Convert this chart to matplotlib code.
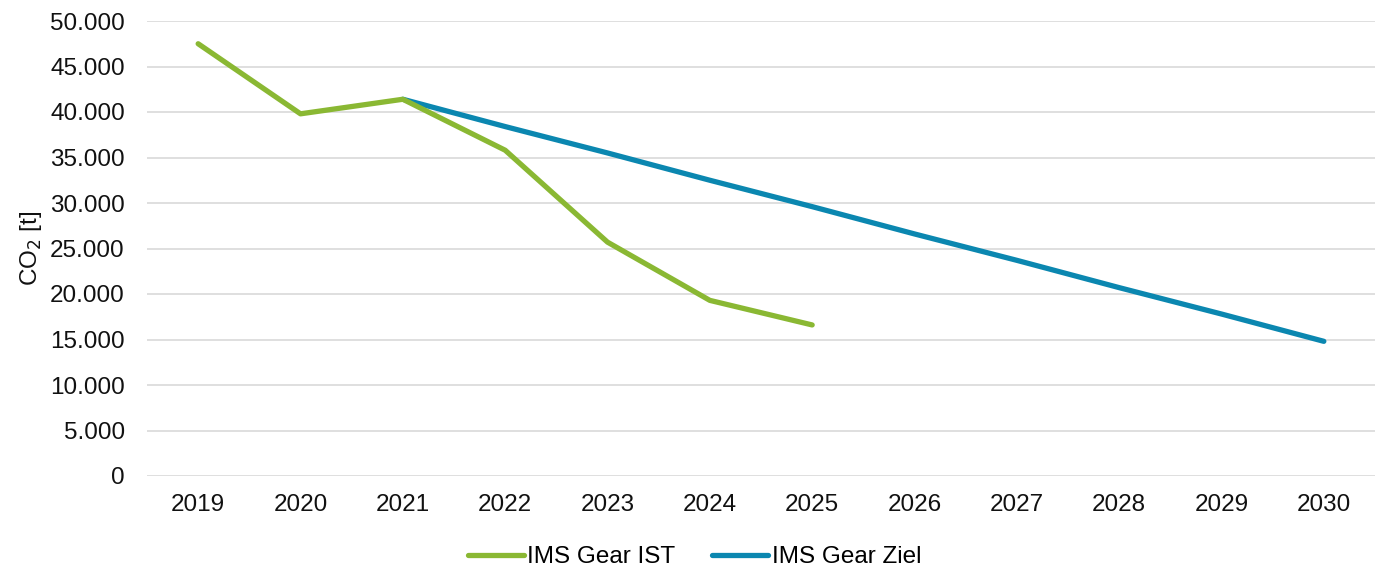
import matplotlib.pyplot as plt
from matplotlib.ticker import FuncFormatter

plt.rcParams['font.family'] = ['Liberation Sans', 'DejaVu Sans']

# Jahre und CO2-Werte (t)
years = ['2019', '2020', '2021', '2022', '2023', '2024', '2025',
         '2026', '2027', '2028', '2029', '2030']
ist_values = [47500, 39800, 41400, 35800, 25700, 19300, 16600]
ziel_years = years[2:]
ziel_values = [41400, 38400, 35500, 32500, 29600, 26600, 23700, 20700, 17800, 14800]

green = '#8ab833'
blue = '#0b87b0'
fs = 17.5

fig = plt.figure(figsize=(13.89, 5.73), dpi=100)
ax = fig.add_axes([147 / 1389, 1 - 476 / 573, (1375 - 147) / 1389, (476 - 21) / 573])

x_all = list(range(len(years)))
ax.plot(x_all[:len(ist_values)], ist_values, color=green, lw=3.8,
        solid_capstyle='round', solid_joinstyle='round', label='IMS Gear IST', zorder=3)
ax.plot(x_all[2:], ziel_values, color=blue, lw=3.8,
        solid_capstyle='round', solid_joinstyle='round', label='IMS Gear Ziel', zorder=2)

ax.set_xlim(-0.5, len(years) - 0.5)
ax.set_ylim(0, 50000)
ax.set_xticks(x_all)
ax.set_xticklabels(years)
ax.set_yticks(range(0, 50001, 5000))
ax.yaxis.set_major_formatter(FuncFormatter(lambda v, p: f'{int(v):,}'.replace(',', '.')))

ax.tick_params(axis='both', length=0, labelsize=fs, colors='#111111')
ax.tick_params(axis='x', pad=13)
ax.tick_params(axis='y', pad=16)
ax.grid(axis='y', color='#d9d9d9', lw=1.2)
ax.set_axisbelow(True)
for s in ax.spines.values():
    s.set_visible(False)

ax.set_ylabel('CO$_2$ [t]', fontsize=fs, color='#111111', labelpad=4)

# Legende unten, mittig zur Abbildung
fig.legend(loc='center', bbox_to_anchor=(0.5, 1 - 557 / 573), ncol=2, frameon=False,
           fontsize=fs, handlelength=2.3, handletextpad=0.15, columnspacing=1.5)

plt.savefig('out.png', dpi=100)
